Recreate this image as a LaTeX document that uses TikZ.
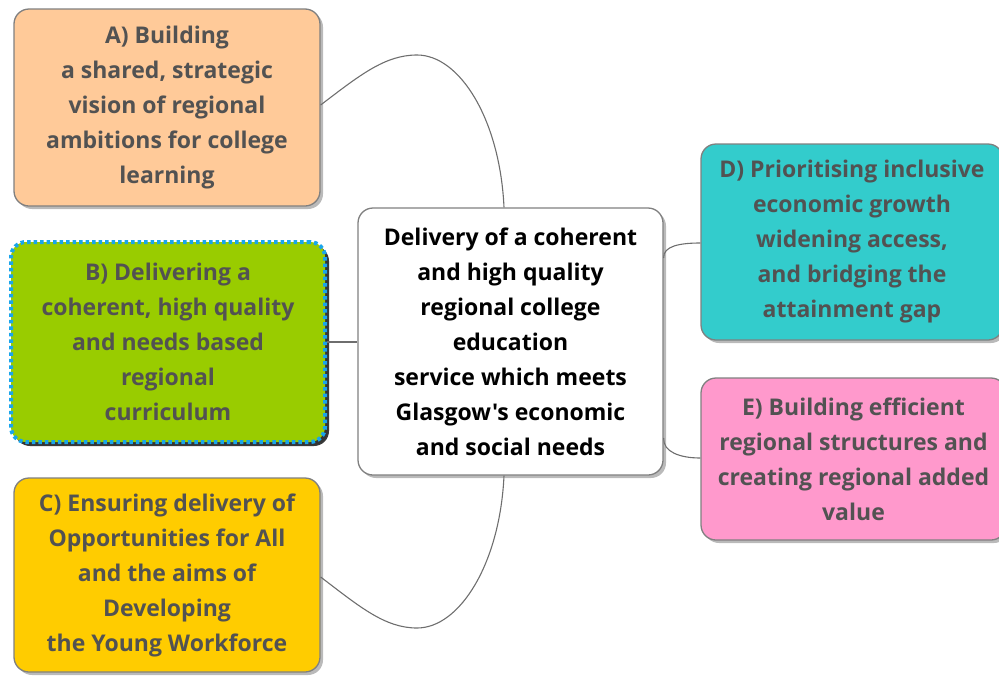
\documentclass[tikz,border=0pt]{standalone}
\usepackage{fontspec}
\setmainfont{Open Sans}[Ligatures=TeXOff]
\usetikzlibrary{shadows}
\definecolor{txtgray}{RGB}{82,82,82}
\definecolor{bordergray}{RGB}{128,128,128}
\definecolor{peach}{RGB}{255,202,153}
\definecolor{lime}{RGB}{153,204,0}
\definecolor{gold}{RGB}{255,204,0}
\definecolor{teal}{RGB}{51,204,204}
\definecolor{pinkish}{RGB}{255,153,204}
\definecolor{dotblue}{RGB}{25,165,235}
\definecolor{linkgray}{RGB}{110,110,110}
\tikzset{
  topic/.style={draw=bordergray, line width=1.3pt, rounded corners=15pt,
    align=center, inner sep=0pt, text=txtgray,
    font=\bfseries\fontsize{23}{35}\selectfont,
    drop shadow={shadow xshift=3pt, shadow yshift=-3pt, opacity=0.45, fill=black!60}},
  hub/.style={topic, fill=white, text=black},
  dotted box/.style={topic, draw=dotblue, line width=4pt, dash pattern=on 3.5pt off 3pt,
    drop shadow={shadow xshift=4pt, shadow yshift=-4pt, opacity=0.9, fill=black!85}},
  link/.style={draw=linkgray, line width=1.1pt}
}
\begin{document}
\begin{tikzpicture}[x=1pt, y=-1pt]
\useasboundingbox (0,0) rectangle (999,675);

\node[topic, fill=peach, minimum width=306pt, minimum height=197pt] (A) at (167,107.5)
  {A) Building\\a shared, strategic\\vision of regional\\ambitions for college\\learning};
\node[dotted box, fill=lime, minimum width=314pt, minimum height=200pt] (B) at (168,342)
  {B) Delivering a\\coherent, high quality\\and needs based\\regional\\curriculum};
\node[topic, fill=gold, minimum width=306pt, minimum height=194pt] (C) at (167,575)
  {C) Ensuring delivery of\\Opportunities for All\\and the aims of\\Developing\\the Young Workforce};
\node[hub, minimum width=305pt, minimum height=267pt] (H) at (510.5,341.5)
  {Delivery of a coherent\\and high quality\\regional college\\education\\service which meets\\Glasgow's economic\\and social needs};
\node[topic, fill=teal, minimum width=302pt, minimum height=196pt] (D) at (852,242)
  {D) Prioritising inclusive\\economic growth\\widening access,\\and bridging the\\attainment gap};
\node[topic, fill=pinkish, minimum width=305pt, minimum height=162pt] (E) at (853.5,459)
  {E) Building efficient\\regional structures and\\creating regional added\\value};

% connectors
\draw[link] (A.east |- 0,105) .. controls (360,75) and (385,55) .. (417,55)
  .. controls (460,55) and (500,120) .. (H.north -| 504,0);
\draw[link] (C.east |- 0,577) .. controls (360,607) and (385,628) .. (417,628)
  .. controls (460,628) and (500,563) .. (H.south -| 504,0);
\draw[link] (B.east) -- (H.west |- B.east);
\draw[link] (H.east |- 0,258) .. controls (663,246) and (680,243) .. (D.west |- 0,243);
\draw[link] (H.east |- 0,438) .. controls (663,452) and (680,458) .. (E.west |- 0,458);
\end{tikzpicture}
\end{document}
